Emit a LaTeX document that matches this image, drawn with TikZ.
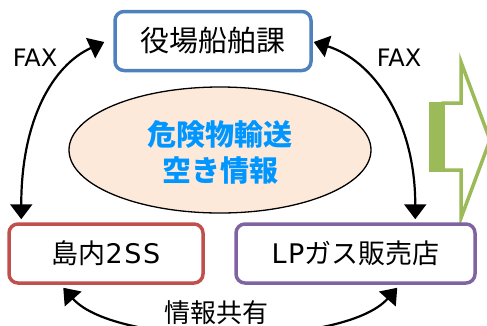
\documentclass[tikz,border=0pt]{standalone}
\usepackage{fontspec}
\setmainfont{Noto Sans CJK JP}
\newfontfamily\lat{DejaVu Sans}[LetterSpace=6]
\newfontfamily\latn{DejaVu Sans}
\usetikzlibrary{arrows.meta,shapes.geometric,calc}
\definecolor{bluec}{RGB}{79,129,189}
\definecolor{redc}{RGB}{192,80,77}
\definecolor{purc}{RGB}{128,100,162}
\definecolor{greenc}{RGB}{155,187,89}
\definecolor{peach}{RGB}{253,233,217}
\definecolor{bluet}{RGB}{0,150,255}
\begin{document}
\begin{tikzpicture}[x=1pt,y=-1pt,
  box/.style={draw, line width=3.5pt, rounded corners=9pt, fill=white, minimum width=#1, minimum height=59pt, inner sep=0pt, font=\fontsize{27}{30}\selectfont},
  conn/.style={line width=2.2pt, {Triangle[length=15pt,width=22pt]}-{Triangle[length=15pt,width=22pt]}},
  lab/.style={inner sep=0pt, font=\latn\fontsize{24}{26}\selectfont}]
\useasboundingbox (0,0) rectangle (487,325);
\clip (0,0) rectangle (487,325);
% green block arrow
\draw[greenc, line width=3.5pt, fill=white, line join=miter] (443,103) -- (461,103) -- (461,62) -- (490,140) -- (461,218) -- (461,170) -- (443,170) -- cycle;
\fill[greenc] (429,101.5) rectangle (445,171.5);
% ellipse
\node[ellipse, draw, line width=1.3pt, fill=peach, minimum width=302pt, minimum height=126pt, inner sep=0pt] (ell) at (220,150) {};
\node[align=center, font=\bfseries\fontsize{29}{36}\selectfont, text=bluet, inner sep=0pt] (info) at (220,152) {危険物輸送\\空き情報};
% boxes
\node[box=196pt, draw=bluec] (yaku) at (213,41) {\fontsize{29}{32}\selectfont 役場船舶課};
\node[box=194pt, draw=redc] (ss) at (106,253.5) {島内{\lat 2SS}};
\node[box=239pt, draw=purc] (lp) at (355.5,253.5) {{\lat LP}ガス販売店};
% labels
\node[lab] (fax1) at (35,57.5) {FAX};
\node[lab] (fax2) at (399,57.5) {FAX};
\node[font=\fontsize{26}{28}\selectfont, inner sep=0pt] (share) at (216.5,313) {情報共有};
% connectors
\draw[conn] ($(ss.north west)+(14,-3)$) .. controls +(0,-100) and +(-51,23) .. ($(yaku.west)+(-9,1)$);
\draw[conn] ($(lp.north west)+(181,-3)$) .. controls +(0,-101) and +(58,18) .. ($(yaku.east)+(1,1)$);
\draw[conn] ($(ss.south west)+(56,3)$) .. controls +(53,60) and +(-53,60) .. ($(lp.south west)+(163,3)$);
\end{tikzpicture}
\end{document}
